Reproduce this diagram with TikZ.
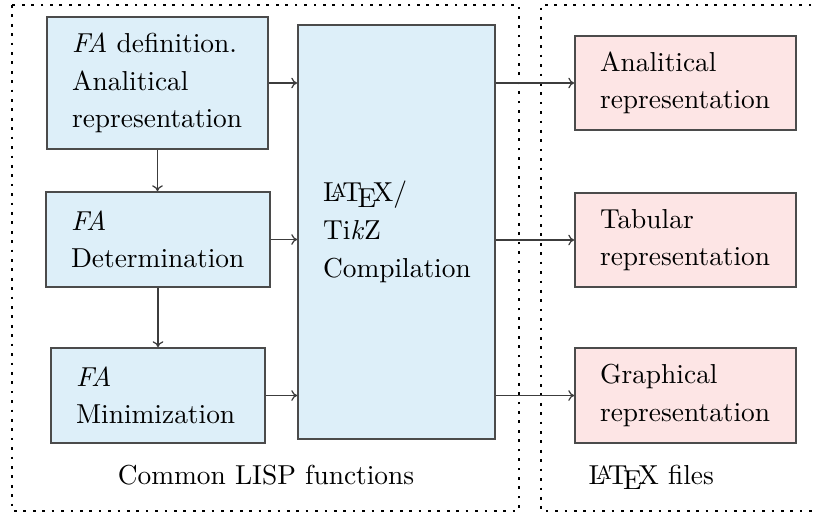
\documentclass[tikz,border=0pt]{standalone}
\usepackage{graphicx}
\usetikzlibrary{arrows.meta}

\definecolor{lispfill}{RGB}{221,239,249}
\definecolor{texfill}{RGB}{253,229,229}
\definecolor{frameline}{RGB}{75,75,75}
\definecolor{inkgray}{RGB}{60,60,60}

\tikzset{
  stage/.style={draw=frameline, line width=0.6pt, rectangle,
    inner xsep=9.3pt, inner ysep=0pt, align=left,
    font=\fontsize{10.2}{14}\selectfont, text=black},
  lispbox/.style={stage, fill=lispfill},
  texbox/.style={stage, fill=texfill},
  flow/.style={draw=inkgray, line width=0.45pt, -{To[length=2.2pt,width=4pt]}},
  region/.style={draw=black, line width=1pt, dash pattern=on 1pt off 2.5pt},
  caption/.style={font=\fontsize{10.2}{14}\selectfont, text=black, inner sep=0pt}
}

\begin{document}
\begin{tikzpicture}[x=0.372pt, y=-0.372pt]
  \useasboundingbox (0,0) rectangle (813,513);

  % dotted frames around the two groups
  \draw[region] (12,5) rectangle (519,511);
  \draw[region] (830,5) -- (541,5) -- (541,511) -- (830,511);

  % Common LISP stages
  \node[lispbox, text width=171*0.372pt, minimum height=132*0.372pt] (def) at (157.5,83)
    {\textit{FA} definition.\\Analitical\\representation};
  \node[lispbox, text width=174*0.372pt, minimum height=95*0.372pt] (det) at (158,239.5)
    {\textit{FA}\\Determination};
  \node[lispbox, text width=164*0.372pt, minimum height=95*0.372pt] (min) at (158,395.5)
    {\textit{FA}\\Minimization};

  % compilation block
  \node[lispbox, text width=147*0.372pt, minimum height=414*0.372pt] (comp) at (396.5,232)
    {\LaTeX/\\Ti\textit{k}Z\\Compilation};

  % generated LaTeX outputs
  \node[texbox, text width=171*0.372pt, minimum height=94*0.372pt] (ana) at (685.5,83)
    {Analitical\\representation};
  \node[texbox, text width=171*0.372pt, minimum height=94*0.372pt] (tab) at (685.5,240)
    {Tabular\\representation};
  \node[texbox, text width=171*0.372pt, minimum height=95*0.372pt] (gra) at (685.5,395.5)
    {Graphical\\representation};

  % group captions
  \node[caption, anchor=base] (lispcap) at (266,484) {Common LISP functions};
  \node[caption, anchor=base west] (texcap) at (588,484) {\LaTeX{} files};

  % processing chain
  \draw[flow] (def.south) -- (def.south |- det.north);
  \draw[flow] (det.south) -- (det.south |- min.north);
  \draw[flow] (def.east) -- (def.east -| comp.west);
  \draw[flow] (det.east) -- (det.east -| comp.west);
  \draw[flow] (min.east) -- (min.east -| comp.west);
  \draw[flow] (comp.east |- ana.west) -- (ana.west);
  \draw[flow] (comp.east |- tab.west) -- (tab.west);
  \draw[flow] (comp.east |- gra.west) -- (gra.west);
\end{tikzpicture}
\end{document}
